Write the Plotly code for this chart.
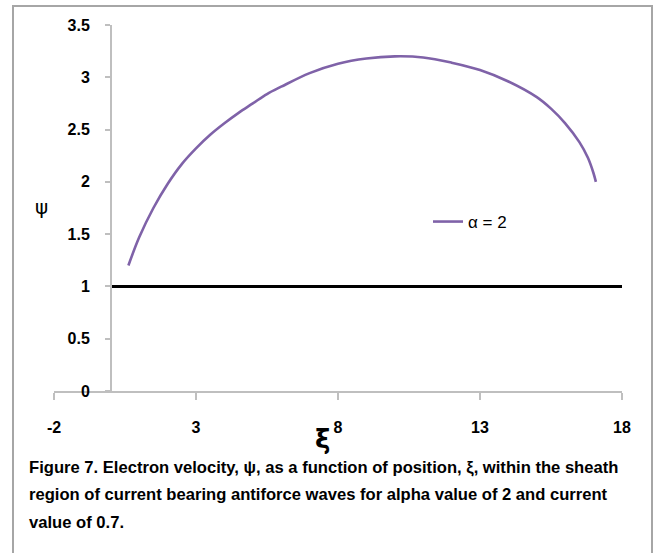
import plotly.graph_objects as go

# Electron velocity psi versus position xi (alpha = 2, current = 0.7)
xi = [0.62, 1.0, 1.5, 2.0, 2.5, 3.0, 3.5, 4.0, 4.5, 5.0, 5.5, 6.0, 7.0, 8.0, 9.0,
      10.0, 11.0, 12.0, 13.0, 14.0, 15.0, 15.5, 16.0, 16.5, 16.8, 17.0, 17.08]
psi = [1.20, 1.47, 1.75, 1.98, 2.17, 2.32, 2.45, 2.56, 2.66, 2.75, 2.84, 2.91, 3.04, 3.13, 3.18,
       3.20, 3.19, 3.14, 3.07, 2.96, 2.81, 2.70, 2.56, 2.38, 2.23, 2.08, 2.00]

# Reference level psi = 1
ref_x = [0, 18]
ref_y = [1, 1]

x_ticks = [-2, 3, 8, 13, 18]
y_ticks = [0, 0.5, 1, 1.5, 2, 2.5, 3, 3.5]
y_tick_text = ["0", "0.5", "1", "1.5", "2", "2.5", "3", "3.5"]

W, H = 657, 553
ML, MR, MT, MB = 54, 35, 25, 162
PW, PH = W - ML - MR, H - MT - MB


def px(x):
    return (x - ML) / PW


def py(y):
    return (H - MB - y) / PH


FONT = "Liberation Sans, Arial, sans-serif"
GRAY = "#BFBFBF"

fig = go.Figure()
fig.add_trace(go.Scatter(
    x=ref_x, y=ref_y, mode="lines", showlegend=False,
    line=dict(color="black", width=3), hoverinfo="skip"))
fig.add_trace(go.Scatter(
    x=xi, y=psi, mode="lines", name="α = 2",
    line=dict(color="#7F62A8", width=2.6, shape="spline", smoothing=1.0)))

fig.update_layout(
    width=W, height=H,
    margin=dict(l=ML, r=MR, t=MT, b=MB),
    paper_bgcolor="white", plot_bgcolor="white",
    font=dict(family=FONT, color="black"),
    xaxis=dict(range=[-2, 18], tickvals=x_ticks, ticktext=[str(v) for v in x_ticks],
               showgrid=False, zeroline=False, showline=True, linecolor=GRAY, linewidth=1.5,
               ticks="outside", ticklen=7, tickcolor=GRAY, tickwidth=1.5,
               tickfont=dict(size=16, weight="bold", family=FONT),
               ticklabelstandoff=14),
    yaxis=dict(range=[0, 3.5], tickvals=y_ticks, ticktext=y_tick_text,
               anchor="free", position=0.1,
               showgrid=False, zeroline=False, showline=True, linecolor=GRAY, linewidth=1.5,
               ticks="outside", ticklen=5, tickcolor=GRAY, tickwidth=1.5,
               tickfont=dict(size=16, weight="bold", family=FONT),
               ticklabelstandoff=12),
    legend=dict(x=px(428), y=py(222), xanchor="left", yanchor="middle",
                bgcolor="rgba(0,0,0,0)", font=dict(size=17, family=FONT),
                itemwidth=30),
    showlegend=True,
)

# Axis symbols
fig.add_annotation(x=px(322), y=py(456), xref="paper", yref="paper", text="<b>ξ</b>",
                   showarrow=False, font=dict(size=26, family="DejaVu Sans"))
fig.add_annotation(x=px(33), y=py(207), xref="paper", yref="paper", text="ψ",
                   showarrow=False, font=dict(size=20, family="DejaVu Sans"))

# Figure caption
caption = ["Figure 7. Electron velocity, ψ, as a function of position, ξ, within the sheath",
           "region of current bearing antiforce waves for alpha value of 2 and current",
           "value of 0.7."]
for i, line in enumerate(caption):
    fig.add_annotation(x=px(27), y=py(468 + 27 * i), xref="paper", yref="paper",
                       text="<b>" + line + "</b>", showarrow=False, xanchor="left",
                       yanchor="middle", font=dict(size=16.6, family=FONT))

# Frame around the figure
fig.add_shape(type="rect", xref="paper", yref="paper",
              x0=px(13), x1=px(652), y0=py(570), y1=py(6),
              line=dict(color="#A6A6A6", width=2), fillcolor="rgba(0,0,0,0)")

fig.write_html("out.html")
